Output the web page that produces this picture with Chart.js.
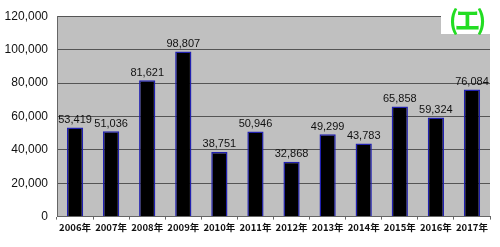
<!DOCTYPE html>
<html><head><meta charset="utf-8">
<script src="https://cdn.jsdelivr.net/npm/chart.js@4/dist/chart.umd.min.js"></script>
<style>
html,body{margin:0;padding:0;background:#fff;}
#wrap{position:relative;width:500px;height:247px;}
#tag{position:absolute;left:441px;top:3px;width:49px;height:31px;background:#fff;color:#22dd22;font:bold 26px "Noto Sans CJK JP",sans-serif;line-height:31px;text-align:center;letter-spacing:-4px;}
</style></head><body>
<div id="wrap"><canvas id="c" width="500" height="247"></canvas><div id="tag">(エ)</div></div>
<script>
const categories = ["2006年","2007年","2008年","2009年","2010年","2011年","2012年","2013年","2014年","2015年","2016年","2017年"];
const values = [53419,51036,81621,98807,38751,50946,32868,49299,43783,65858,59324,76084];
const yTicks = [0,20000,40000,60000,80000,100000,120000];

const bgPlugin = {
  id:'bg',
  beforeDraw(chart){
    const {ctx, chartArea:a} = chart;
    ctx.save(); ctx.fillStyle='#c0c0c0'; ctx.fillRect(a.left,a.top,a.right-a.left,a.bottom-a.top); ctx.restore();
  }
};
const labelPlugin = {
  id:'lbl',
  afterDatasetsDraw(chart){
    const ctx = chart.ctx; const meta = chart.getDatasetMeta(0);
    ctx.save(); ctx.fillStyle='#111'; ctx.font='11px "Liberation Sans", Arial, sans-serif';
    ctx.textAlign='center'; ctx.textBaseline='bottom';
    meta.data.forEach((b,i)=>{ ctx.fillText(values[i].toLocaleString('en-US'), b.x, b.y-2); });
    ctx.restore();
  }
};
new Chart(document.getElementById('c'),{
  type:'bar',
  data:{labels:categories,datasets:[{data:values,backgroundColor:'#000',borderColor:'#2020b0',borderWidth:1.5,categoryPercentage:0.9,barPercentage:0.5}]},
  options:{
    responsive:false,animation:false,
    layout:{padding:{left:0,right:10,top:14,bottom:12}},
    plugins:{legend:{display:false},tooltip:{enabled:false}},
    scales:{
      x:{grid:{display:true,drawOnChartArea:false,drawTicks:true,tickLength:3,offset:true,color:'#666'},
         border:{color:'#666'},
         ticks:{color:'#111',autoSkip:false,font:{size:9.5,weight:'bold',family:'"Noto Sans CJK JP", sans-serif'},maxRotation:0,padding:2}},
      y:{min:0,max:120000,afterBuildTicks(s){s.ticks=yTicks.map(v=>({value:v}));},
         grid:{color:'#555',drawTicks:false},border:{color:'#666'},
         afterFit(s){s.width=57;},
         ticks:{color:'#111',padding:9,font:{size:12,family:'"Liberation Sans", Arial, sans-serif'},callback:v=>v.toLocaleString('en-US')}}
    }
  },
  plugins:[bgPlugin,labelPlugin]
});
</script></body></html>
